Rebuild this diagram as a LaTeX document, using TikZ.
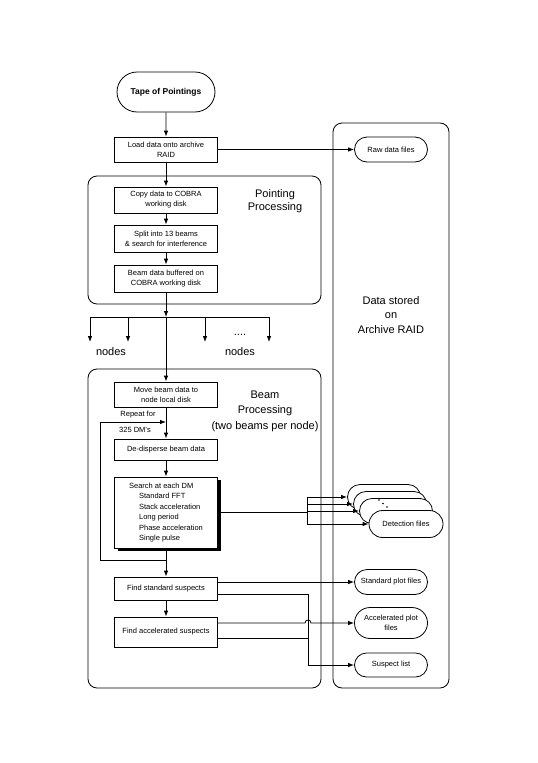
\documentclass[tikz,border=0pt]{standalone}
\usepackage{fontspec}
\setmainfont{Liberation Sans}
\usepackage{tikz}
\usetikzlibrary{shapes,arrows.meta,positioning,shadows}

\begin{document}
\begin{tikzpicture}[
    x=1pt, y=-1pt,
    box/.style={rectangle, draw, line width=0.8pt, fill=white, minimum width=103pt, minimum height=25pt, align=center, font=\fontsize{7.5}{10}\selectfont, inner sep=2pt},
    term/.style={rounded rectangle, draw, line width=0.8pt, fill=white, minimum width=77pt, minimum height=25pt, align=center, font=\fontsize{7.5}{10}\selectfont, inner sep=2pt},
    group/.style={rectangle, draw, rounded corners=9pt, line width=0.8pt},
    big/.style={align=center, font=\fontsize{11}{14.5}\selectfont},
    arrow/.style={-{Latex[length=6pt,width=4.5pt]}, line width=0.8pt},
    line/.style={line width=0.8pt}
]
    \useasboundingbox (0,0) rectangle (538,763);

    % containers
    \node[group, minimum width=233pt, minimum height=128pt] (pointgrp) at (204.5,240) {};
    \node[group, minimum width=233pt, minimum height=319pt] (beamgrp) at (204.5,528.5) {};
    \node[group, minimum width=116pt, minimum height=565pt] (archive) at (391,405.5) {};

    \node[big, font=\fontsize{11}{12.5}\selectfont] (pointlbl) at (275,201) {Pointing\\Processing};
    \node[big, font=\fontsize{11}{15.5}\selectfont] (beamlbl) at (265,411) {Beam\\Processing\\(two beams per node)};
    \node[big] (archlbl) at (391,315) {Data stored\\on\\Archive RAID};

    % pointing processing
    \node[term, minimum width=102pt, minimum height=40pt, font=\fontsize{8.5}{10}\selectfont\bfseries] (tape) at (166,92) {Tape of Pointings};
    \node[box] (load) at (166,149.5) {Load data onto archive\\RAID};
    \node[term] (raw) at (391,149.5) {Raw data files};
    \node[box, minimum height=26pt] (copy) at (166,200) {Copy data to COBRA\\working disk};
    \node[box, minimum height=27pt] (split) at (166,238.5) {Split into 13 beams\\\& search for interference};
    \node[box, minimum height=27pt] (buffer) at (166,278.5) {Beam data buffered on\\COBRA working disk};

    \draw[arrow] (tape) -- (load);
    \draw[arrow] (load) -- (raw);
    \draw[arrow] (load) -- (copy);
    \draw[arrow] (copy) -- (split);
    \draw[arrow] (split) -- (buffer);

    % fan out to the nodes
    \coordinate (fork) at (166,317);
    \foreach \bx [count=\i] in {90,128,205,269} {
        \coordinate (top\i) at (\bx,317);
        \coordinate (tip\i) at (\bx,342);
        \draw[arrow] (top\i) -- (tip\i);
    }
    \draw[line] (top1) -- (top4);
    \draw[arrow] (buffer) -- (fork);
    \node[big] (nodesA) at (111,352) {nodes};
    \node[big] (nodesB) at (240,352) {nodes};
    \node[big] (dots) at (240,335) {....};

    % beam processing
    \node[box] (move) at (166,394.5) {Move beam data to\\node local disk};
    \node[box, minimum height=21pt] (dedisp) at (166,449.5) {De-disperse beam data};
    \node[box, minimum height=71pt, align=left, font=\fontsize{7.5}{10.4}\selectfont,
          drop shadow={shadow xshift=3pt, shadow yshift=-3pt, fill=black, opacity=1}] (search) at (166,512.5)
        {Search at each DM\\\hspace*{10pt}Standard FFT\\\hspace*{10pt}Stack acceleration\\\hspace*{10pt}Long period\\\hspace*{10pt}Phase acceleration\\\hspace*{10pt}Single pulse};
    \node[box, minimum height=23pt] (findstd) at (166,588.5) {Find standard suspects};
    \node[box, minimum height=30pt] (findacc) at (166,632) {Find accelerated suspects};

    \node[font=\fontsize{7.5}{10}\selectfont] (repeat) at (138,415) {Repeat for};
    \node[font=\fontsize{7.5}{10}\selectfont] (dms) at (135,430) {325 DM's};

    \coordinate (loopin) at (166,422);
    \coordinate (loopbot) at (166,560);
    \coordinate (loopbl) at (100,560);
    \coordinate (looptl) at (100,422);

    \draw[arrow] (fork) -- (move);
    \draw[arrow] (move) -- (dedisp);
    \draw[arrow] (dedisp) -- (search);
    \draw[line] (search) -- (loopbot);
    \draw[arrow] (loopbot) -- (loopbl) -- (looptl) -- (loopin);
    \draw[arrow] (loopbot) -- (findstd);
    \draw[arrow] (findstd) -- (findacc);

    % detection files
    \node[term] (det1) at (384,497) {};
    \node[term] (det2) at (390,504) {};
    \node[term] (det3) at (396,511) {};
    \node[term, minimum width=78pt, minimum height=27pt] (det4) at (406,524) {Detection files};
    \fill (379,500) circle (0.9pt) (383,503.5) circle (0.9pt) (387,507) circle (0.9pt);

    \coordinate (fan) at (307,512.5);
    \draw[line] (search) -- (fan);
    \draw[line] (fan |- det1.west) -- (fan |- det4.west);
    \foreach \i in {1,...,4}
        \draw[arrow] (fan |- det\i.west) -- (det\i.west);

    % suspects
    \node[term] (stdplot) at (391,582) {Standard plot files};
    \node[term, minimum height=31pt] (accplot) at (391,623) {Accelerated plot\\files};
    \node[term, minimum height=24pt] (suspects) at (391,665) {Suspect list};

    \coordinate (merge) at (308,594);
    \coordinate (hop) at (308,623);
    \coordinate (stdout) at ([yshift=-5.5pt]findstd.east);
    \coordinate (accout) at ([yshift=-6pt]findacc.east);

    \draw[arrow] (findstd.east |- stdplot.west) -- (stdplot.west);
    \draw[arrow] (stdout) -- (merge) -- (merge |- suspects.west) -- (suspects.west);
    \draw[arrow] (findacc.east |- accplot.west) -- ([xshift=-3pt]hop)
        .. controls ([xshift=-3pt,yshift=4pt]hop) and ([xshift=3pt,yshift=4pt]hop) .. ([xshift=3pt]hop)
        -- (accplot.west);
    \draw[line] (accout) -- (accout -| merge);
\end{tikzpicture}
\end{document}
